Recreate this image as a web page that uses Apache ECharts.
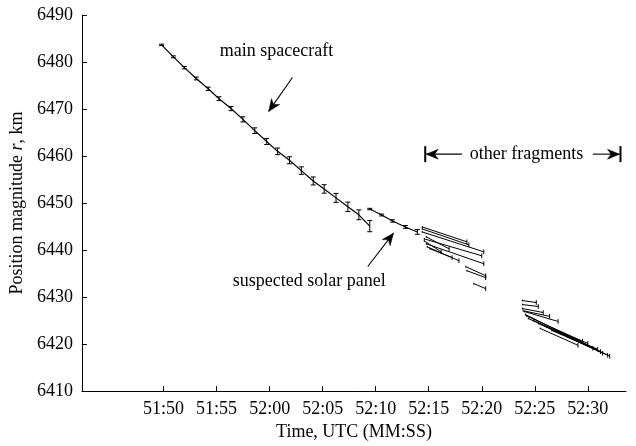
<!DOCTYPE html>
<html>
<head>
<meta charset="utf-8">
<script src="https://cdn.jsdelivr.net/npm/echarts@6/dist/echarts.min.js"></script>
<style>
  html, body { margin: 0; padding: 0; background: #fff; }
  #chart { width: 636px; height: 446px; }
</style>
</head>
<body>
<div id="chart"></div>
<script>
// Time is measured in seconds after 51:00 UTC, position magnitude in km.
const timeTicks = [50, 55, 60, 65, 70, 75, 80, 85, 90];
const timeMin = 42.3;
const timeMax = 93.6;
const radiusMin = 6410;
const radiusMax = 6490;
const radiusStep = 10;

// Main spacecraft track with 1-sigma error bars
const mainTimes = [49.81, 50.93, 51.96, 53.08, 54.21, 55.23, 56.36, 57.48, 58.60, 59.72,
                   60.75, 61.87, 62.99, 64.11, 65.14, 66.26, 67.38, 68.41, 69.44];
const mainRadius = [6483.65, 6481.1, 6478.8, 6476.5, 6474.3, 6472.2, 6470.1, 6467.8, 6465.4, 6463.1,
                    6461.0, 6459.1, 6456.9, 6454.7, 6453.0, 6451.1, 6449.2, 6447.5, 6445.1];
const mainError = [0.15, 0.2, 0.25, 0.3, 0.35, 0.4, 0.45, 0.55, 0.6, 0.65,
                   0.7, 0.75, 0.8, 0.85, 0.9, 0.95, 1.0, 1.05, 1.2];

// Suspected solar panel track
const panelTimes = [69.44, 70.56, 71.59, 72.80, 73.93];
const panelRadius = [6448.73, 6447.46, 6446.19, 6444.92, 6443.86];
const panelError = [0.15, 0.2, 0.25, 0.3, 0.5];

// Other fragments: [start time, start r, end time, end r]
const fragmentTracks = [
  [74.39, 6444.92, 78.60, 6441.75],
  [74.39, 6444.50, 78.79, 6441.11],
  [74.39, 6443.86, 80.19, 6439.63],
  [74.77, 6442.80, 76.92, 6440.26],
  [74.58, 6442.38, 80.00, 6438.78],
  [74.58, 6441.96, 76.17, 6439.63],
  [74.77, 6441.32, 80.19, 6437.09],
  [74.86, 6440.69, 77.85, 6437.73],
  [75.10, 6440.30, 77.20, 6438.40],
  [78.50, 6436.46, 80.37, 6434.55],
  [78.60, 6435.61, 80.37, 6434.13],
  [79.25, 6432.86, 80.37, 6431.80],
  [83.83, 6429.26, 85.14, 6428.84],
  [83.83, 6428.41, 85.33, 6427.99],
  [83.83, 6427.57, 85.79, 6426.72],
  [83.90, 6427.10, 86.40, 6425.90],
  [84.02, 6426.93, 87.20, 6424.81],
  [84.11, 6426.30, 92.06, 6417.41],
  [84.20, 6426.00, 89.50, 6420.60],
  [84.39, 6425.45, 91.40, 6418.04],
  [84.86, 6425.03, 90.93, 6418.89],
  [85.33, 6424.39, 90.47, 6419.10],
  [86.07, 6423.76, 90.00, 6420.16],
  [85.51, 6423.33, 89.07, 6419.74],
  [87.20, 6422.70, 91.87, 6417.62],
  [86.60, 6422.90, 91.20, 6418.40]
];
const fragmentEndError = 0.5;

// Annotation anchors in (time, km)
const mainLabelAt = [60.65, 6482.2];
const mainArrow = [[62.15, 6476.7], [59.91, 6469.5]];
const panelLabelAt = [63.74, 6433.3];
const panelArrow = [[69.25, 6436.5], [71.68, 6443.6]];
const bracketLevel = 6460.4;
const bracketLeft = 74.67;
const bracketRight = 93.08;
const bracketLabelAt = 84.21;
const bracketArrowTails = [78.13, 90.47];

const FONT = '"Liberation Serif", "Times New Roman", serif';
const FS = 18;
const INK = '#000';

function fmtTime(t) {
  const m = 51 + Math.floor(t / 60);
  const s = Math.round(t % 60);
  return m + ':' + (s < 10 ? '0' + s : s);
}

function errorBarItem(params, api) {
  const t = api.value(0), r = api.value(1), e = api.value(2);
  const top = api.coord([t, r + e]);
  const bot = api.coord([t, r - e]);
  const hw = 2.5;
  const style = { stroke: INK, lineWidth: 1 };
  return {
    type: 'group',
    children: [
      { type: 'line', shape: { x1: top[0], y1: top[1], x2: bot[0], y2: bot[1] }, style },
      { type: 'line', shape: { x1: top[0] - hw, y1: top[1], x2: top[0] + hw, y2: top[1] }, style },
      { type: 'line', shape: { x1: bot[0] - hw, y1: bot[1], x2: bot[0] + hw, y2: bot[1] }, style }
    ]
  };
}

function trackItem(params, api) {
  const t0 = api.value(0), r0 = api.value(1), t1 = api.value(2), r1 = api.value(3);
  const p0 = api.coord([t0, r0]);
  const p1 = api.coord([t1, r1]);
  const a = api.coord([t1, r1 + fragmentEndError]);
  const b = api.coord([t1, r1 - fragmentEndError]);
  const c = api.coord([t0, r0 + fragmentEndError * 0.4]);
  const d = api.coord([t0, r0 - fragmentEndError * 0.4]);
  const style = { stroke: INK, lineWidth: 1 };
  return {
    type: 'group',
    children: [
      { type: 'line', shape: { x1: p0[0], y1: p0[1], x2: p1[0], y2: p1[1] }, style },
      { type: 'line', shape: { x1: a[0], y1: a[1], x2: b[0], y2: b[1] }, style },
      { type: 'line', shape: { x1: c[0], y1: c[1], x2: d[0], y2: d[1] }, style }
    ]
  };
}

const chart = echarts.init(document.getElementById('chart'), null, { renderer: 'canvas' });

chart.setOption({
  animation: false,
  backgroundColor: '#fff',
  grid: { left: 80, right: 10, top: 15, bottom: 53, containLabel: false },
  xAxis: {
    type: 'value',
    min: timeMin,
    max: timeMax,
    name: 'Time, UTC (MM:SS)',
    nameLocation: 'middle',
    nameGap: 27,
    nameTextStyle: { fontFamily: FONT, fontSize: FS, color: INK },
    axisLine: { show: true, onZero: false, lineStyle: { color: INK, width: 1 } },
    axisTick: { show: true, inside: true, length: 5, customValues: timeTicks, lineStyle: { color: INK } },
    axisLabel: {
      customValues: timeTicks,
      formatter: v => fmtTime(v),
      fontFamily: FONT, fontSize: FS, color: INK, margin: 9
    },
    splitLine: { show: false }
  },
  yAxis: {
    type: 'value',
    min: radiusMin,
    max: radiusMax,
    interval: radiusStep,
    name: '{a|Position magnitude }{i|r}{a|, km}',
    nameLocation: 'middle',
    nameGap: 53,
    nameTextStyle: {
      rich: {
        a: { fontFamily: FONT, fontSize: FS, color: INK },
        i: { fontFamily: FONT, fontSize: FS, color: INK, fontStyle: 'italic' }
      }
    },
    axisLine: { show: true, onZero: false, lineStyle: { color: INK, width: 1 } },
    axisTick: { show: true, inside: true, length: 5, lineStyle: { color: INK } },
    axisLabel: { formatter: v => String(v), fontFamily: FONT, fontSize: FS, color: INK, margin: 9 },
    splitLine: { show: false }
  },
  series: [
    {
      name: 'main spacecraft',
      type: 'line',
      data: mainTimes.map((t, i) => [t, mainRadius[i]]),
      showSymbol: false,
      lineStyle: { color: INK, width: 1.2 },
      silent: true,
      z: 3
    },
    {
      type: 'custom',
      data: mainTimes.map((t, i) => [t, mainRadius[i], mainError[i]]),
      encode: { x: 0, y: 1 },
      renderItem: errorBarItem,
      silent: true,
      z: 4
    },
    {
      name: 'suspected solar panel',
      type: 'line',
      data: panelTimes.map((t, i) => [t, panelRadius[i]]),
      showSymbol: false,
      lineStyle: { color: INK, width: 1.1 },
      silent: true,
      z: 3
    },
    {
      type: 'custom',
      data: panelTimes.map((t, i) => [t, panelRadius[i], panelError[i]]),
      encode: { x: 0, y: 1 },
      renderItem: errorBarItem,
      silent: true,
      z: 4
    },
    {
      name: 'other fragments',
      type: 'custom',
      data: fragmentTracks,
      encode: { x: [0, 2], y: [1, 3] },
      renderItem: trackItem,
      silent: true,
      z: 3
    }
  ]
});

// Annotation layer: labels, arrows and the bracket, placed from data anchors.
function px(p) { return chart.convertToPixel({ gridIndex: 0 }, p); }

function arrowHead(tail, head, len, half) {
  const dx = head[0] - tail[0], dy = head[1] - tail[1];
  const L = Math.hypot(dx, dy);
  const ux = dx / L, uy = dy / L;
  const nx = -uy, ny = ux;
  const bx = head[0] - ux * len, by = head[1] - uy * len;
  const notch = [head[0] - ux * len * 0.7, head[1] - uy * len * 0.7];
  return {
    type: 'polygon',
    shape: { points: [head, [bx + nx * half, by + ny * half], notch, [bx - nx * half, by - ny * half]] },
    style: { fill: INK, stroke: INK, lineWidth: 0.5 },
    z: 10
  };
}

function arrow(tail, head) {
  return [
    { type: 'line', shape: { x1: tail[0], y1: tail[1], x2: head[0], y2: head[1] }, style: { stroke: INK, lineWidth: 1.1 }, z: 10 },
    arrowHead(tail, head, 12, 5)
  ];
}

function label(text, at) {
  return {
    type: 'text', x: at[0], y: at[1], z: 10,
    style: { text, fontFamily: FONT, fontSize: FS, fill: INK, align: 'center', verticalAlign: 'middle' }
  };
}

const g = [];
g.push(label('main spacecraft', px(mainLabelAt)));
g.push(...arrow(px(mainArrow[0]), px(mainArrow[1])));
g.push(label('suspected solar panel', px(panelLabelAt)));
g.push(...arrow(px(panelArrow[0]), px(panelArrow[1])));

const bl = px([bracketLeft, bracketLevel]);
const br = px([bracketRight, bracketLevel]);
const tl = px([bracketArrowTails[0], bracketLevel]);
const tr = px([bracketArrowTails[1], bracketLevel]);
g.push({ type: 'line', shape: { x1: bl[0], y1: bl[1] - 8, x2: bl[0], y2: bl[1] + 8 }, style: { stroke: INK, lineWidth: 2 }, z: 10 });
g.push({ type: 'line', shape: { x1: br[0], y1: br[1] - 8, x2: br[0], y2: br[1] + 8 }, style: { stroke: INK, lineWidth: 2 }, z: 10 });
g.push(...arrow(tl, [bl[0] + 1, bl[1]]));
g.push(...arrow(tr, [br[0] - 1, br[1]]));
g.push(label('other fragments', px([bracketLabelAt, bracketLevel])));

chart.setOption({ graphic: g });
</script>
</body>
</html>
